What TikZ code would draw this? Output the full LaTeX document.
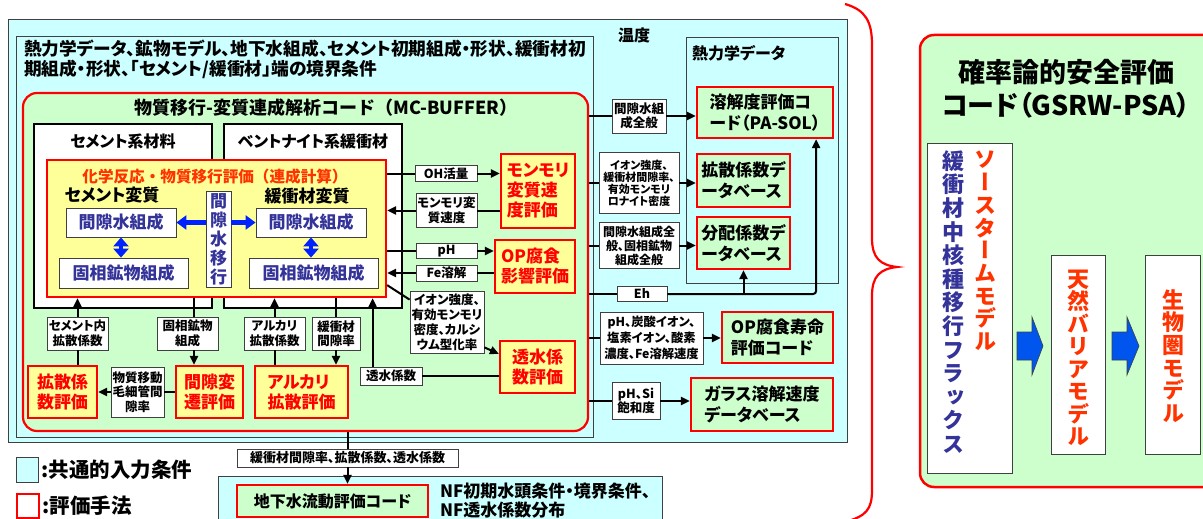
\documentclass[tikz,border=0pt]{standalone}
\usepackage{fontspec}
\setmainfont{Noto Sans CJK JP}[RawFeature={+palt}]
\newfontfamily\nopalt{Noto Sans CJK JP}
\newfontfamily\vertfont{Noto Sans CJK JP}[RawFeature={+vert}]
\usetikzlibrary{arrows.meta,calc}
\definecolor{cyanbg}{HTML}{CCFFFF}
\definecolor{greenbg}{HTML}{CCFFCC}
\definecolor{yellowbg}{HTML}{FFFF99}
\definecolor{navy}{HTML}{333399}
\definecolor{orred}{HTML}{FF3300}
\definecolor{bluearr}{HTML}{0022FF}
\definecolor{blockblue}{HTML}{0055EE}
\definecolor{grayline}{HTML}{404040}
\newcommand\myfs[2]{\bfseries\fontsize{#1}{#2}\selectfont}
\begin{document}
\begin{tikzpicture}[x=1pt,y=-1pt,
  container/.style={draw=grayline, fill=cyanbg, line width=1pt, inner sep=0},
  whitebox/.style={draw=black, fill=white, line width=2pt, inner sep=0},
  lbl/.style={draw=grayline, fill=white, line width=0.8pt, inner sep=0.5pt, align=center, font=\myfs{12.5}{14.5}},
  dlbl/.style={lbl, font=\myfs{11}{12}},
  evy/.style={draw=red, fill=yellowbg, line width=2.2pt, text=red, align=left, inner sep=0, font=\myfs{17}{20}},
  evg/.style={draw=red, fill=greenbg, line width=2.2pt, align=left, inner sep=0, font=\myfs{17}{21}},
  inb/.style={draw=grayline, fill=white, line width=0.8pt, text=navy, inner sep=0, align=center, font=\myfs{17}{19}},
  hd/.style={inner sep=0, font=\myfs{16}{20}},
  conn/.style={line width=2pt},
  arr/.style={line width=2pt, -{Triangle[length=9pt,width=8pt]}},
  bsingle/.style={line width=4.5pt, draw=bluearr, -{Triangle[length=10pt,width=14pt]}},
  bdouble/.style={line width=4.5pt, draw=bluearr, {Triangle[length=9pt,width=15pt]}-{Triangle[length=9pt,width=15pt]}},
  vtxt/.style={inner sep=0, align=center},
  blockarrow/.style={fill=blockblue, draw=grayline, line width=0.6pt}
]
\useasboundingbox (0,0) rectangle (1203,519);

% containers
\node[container, minimum width=839, minimum height=422] (outer) at (427.5,231) {};
\node[container, minimum width=577, minimum height=400] (inl) at (304.5,237) {};
\node[container, minimum width=152, minimum height=245] (thermo) at (762,160.5) {};
\node[draw=red, fill=greenbg, line width=2.2pt, rounded corners=14pt, minimum width=565, minimum height=338, inner sep=0] (green) at (305.5,262) {};
\node[whitebox, minimum width=178, minimum height=184] (cem) at (123,216) {};
\node[whitebox, minimum width=178, minimum height=184] (ben) at (313,216) {};
\node[draw=red, fill=yellowbg, line width=2.2pt, minimum width=339, minimum height=137, inner sep=0] (yel) at (216.5,228.5) {};

% header texts
\node[hd, anchor=north west, align=left, font=\myfs{17.7}{20}] (toptxt) at (24,40) {熱力学データ、鉱物モデル、地下水組成、セメント初期組成・形状、緩衝材初\\期組成・形状、「セメント/緩衝材」端の境界条件};
\node[hd] (temp) at (634,35) {温度};
\node[hd, anchor=west] (thermot) at (692,53) {熱力学データ};
\node[hd, font={\nopalt\myfs{18}{20}}] (mctitle) at (326,108) {物質移行-変質連成解析コード（MC-BUFFER）};
\node[hd] (cemt) at (123,141) {セメント系材料};
\node[hd] (bent) at (313,141) {ベントナイト系緩衝材};
\node[hd, text=orred, font={\nopalt\myfs{15.6}{20}}] (yelt) at (215,177) {化学反応・物質移行評価（連成計算）};
\node[inner sep=0, font=\myfs{17}{20}] (cemh) at (112,195) {セメント変質};
\node[inner sep=0, font=\myfs{17}{20}] (benh) at (307,196) {緩衝材変質};

% inner boxes
\node[inb, minimum width=110, minimum height=29] (lpw) at (121,222.5) {間隙水組成};
\node[inb, minimum width=129, minimum height=30] (lsm) at (123.5,273) {固相鉱物組成};
\node[inb, minimum width=25, minimum height=96] (move) at (218.5,239) {間\\隙\\水\\移\\行};
\node[inb, minimum width=110, minimum height=29] (rpw) at (311,222.5) {間隙水組成};
\node[inb, minimum width=129, minimum height=30] (rsm) at (313.5,273) {固相鉱物組成};
\draw[bdouble] (lpw.south) -- (lpw.south |- lsm.north);
\draw[bdouble] (rpw.south) -- (rpw.south |- rsm.north);
\draw[bsingle] (move.west |- lpw) -- (lpw.east);
\draw[bsingle] (move.east |- rpw) -- (rpw.west);

% right of yellow box
\node[lbl, minimum width=62, minimum height=16] (oh) at (446,173.5) {OH活量};
\node[evy, minimum width=74, minimum height=74] (mon) at (538,191) {モンモリ\\変質速\\度評価};
\node[lbl, minimum width=61, minimum height=34] (monsp) at (446.5,210.5) {モンモリ変\\質速度};
\node[lbl, minimum width=61, minimum height=15] (ph) at (446.5,251) {pH};
\node[evy, minimum width=80, minimum height=53] (op) at (535,266.5) {OP腐食\\影響評価};
\node[lbl, minimum width=61, minimum height=16] (fe) at (446.5,273) {Fe溶解};
\node[lbl, minimum width=74, minimum height=62, font=\myfs{12.5}{15}] (ion) at (447,322) {イオン強度、\\有効モンモリ\\密度、カルシ\\ウム型化率};
\node[evy, minimum width=75, minimum height=52] (teval) at (537.5,367) {透水係\\数評価};
\node[lbl, minimum width=62, minimum height=18] (tousui) at (391,376) {透水係数};

\draw[conn] (oh -| yel.east) -- (oh.west);
\draw[arr] (oh.east) -- (oh -| mon.west);
\draw[conn] (monsp -| mon.west) -- (monsp.east);
\draw[arr] (monsp.west) -- (monsp -| yel.east);
\draw[conn] (ph -| yel.east) -- (ph.west);
\draw[arr] (ph.east) -- (ph -| op.west);
\draw[conn] (fe -| op.west) -- (fe.east);
\draw[arr] (fe.west) -- (fe -| yel.east);
\draw[conn] ($(yel.south east)+(0,-13)$) -- ($(ion.north west)+(0,9)$);
\draw[arr] ($(ion.south east)+(0,-6)$) -- ($(teval.north west)+(0,14)$);
\draw[conn] (tousui -| teval.west) -- (tousui.east);
\coordinate (tx) at ($(tousui.north west)+(13,0)$);
\draw[arr] (tx) -- (tx |- yel.south);

% bottom row in green box
\node[lbl, minimum width=61, minimum height=33] (cdiff) at (77.5,333.5) {セメント内\\拡散係数};
\node[evy, minimum width=69, minimum height=52] (deval) at (62.5,392) {拡散係\\数評価};
\node[lbl, minimum width=61, minimum height=33] (smin) at (187.5,333.5) {固相鉱物\\組成};
\node[evy, minimum width=67, minimum height=52] (peval) at (209.5,392) {間隙変\\遷評価};
\node[lbl, minimum width=53, minimum height=50] (capbox) at (137.5,392) {物質移動\\毛細管間\\隙率};
\node[lbl, minimum width=61, minimum height=33] (adiff) at (274.5,333.5) {アルカリ\\拡散係数};
\node[lbl, minimum width=48, minimum height=33] (bpor) at (336,333.5) {緩衝材\\間隙率};
\node[evy, minimum width=93, minimum height=52] (aeval) at (301.5,392) {アルカリ\\拡散評価};

\draw[conn] (deval.north -| cdiff) -- (cdiff.south);
\draw[arr] (cdiff.north) -- (cdiff.north |- yel.south);
\coordinate (c194) at (194,300);
\draw[conn] (yel.south -| c194) -- (smin.north -| c194);
\draw[arr] (smin.south -| c194) -- (peval.north -| c194);
\draw[conn] (peval.west) -- (capbox.east);
\draw[arr] (capbox.west) -- (capbox.west -| deval.east);
\draw[conn] (aeval.north -| adiff) -- (adiff.south);
\draw[arr] (adiff.north) -- (adiff.north |- yel.south);
\draw[conn] (yel.south -| bpor) -- (bpor.north);
\draw[arr] (bpor.south) -- (bpor.south |- aeval.north);

% right column
\node[lbl, minimum width=54, minimum height=34] (gensei) at (639,116) {間隙水組\\成全般};
\node[evg, minimum width=136, minimum height=51] (pasol) at (765,112.5) {溶解度評価コ\\ード（PA-SOL）};
\node[dlbl, minimum width=80, minimum height=61] (ion2) at (639,183) {イオン強度、\\緩衝材間隙率、\\有効モンモリ\\ロナイト密度};
\node[evg, minimum width=93, minimum height=53] (diffdb) at (743.5,180.5) {拡散係数デ\\ータベース};
\node[lbl, minimum width=80, minimum height=46, font=\myfs{12}{14}] (kdbox) at (639,245.5) {間隙水組成全\\般、固相鉱物\\組成全般};
\node[evg, minimum width=93, minimum height=52] (kddb) at (743.5,243) {分配係数デ\\ータベース};
\node[lbl, minimum width=50, minimum height=15] (eh) at (642,294) {Eh};
\node[lbl, minimum width=103, minimum height=52, font=\myfs{12.3}{16}] (opbox) at (651.5,338) {pH、炭酸イオン、\\塩素イオン、酸素\\濃度、Fe溶解速度};
\node[evg, minimum width=111, minimum height=51] (oplife) at (777.5,337.5) {OP腐食寿命\\評価コード};
\node[lbl, minimum width=48, minimum height=37] (sibox) at (636,401) {pH、Si\\飽和度};
\node[evg, minimum width=142, minimum height=53] (glass) at (762,404.5) {ガラス溶解速度\\データベース};

\draw[conn] (gensei -| green.east) -- (gensei.west);
\draw[arr] (gensei.east) -- (gensei -| pasol.west);
\draw[conn] (ion2 -| green.east) -- (ion2.west);
\draw[arr] (ion2.east) -- (ion2 -| diffdb.west);
\draw[conn] (kdbox -| green.east) -- (kdbox.west);
\draw[arr] (kdbox.east) -- (kdbox -| kddb.west);
\draw[conn] (opbox -| green.east) -- (opbox.west);
\draw[arr] (opbox.east) -- (opbox -| oplife.west);
\draw[conn] (sibox -| green.east) -- (sibox.west);
\draw[arr] (sibox.east) -- (sibox -| glass.west);
\draw[conn] (eh -| green.east) -- (eh.west);
\coordinate (pasx) at ($(pasol.south east)+(-18,0)$);
\draw[arr, rounded corners=3pt] (eh.east) -- (eh -| pasx) -- (pasx);
\draw[arr] (eh -| kddb.south) -- (kddb.south);

% bottom
\node[lbl, minimum width=221, minimum height=18, font=\myfs{13}{14}] (bline) at (347.5,458) {緩衝材間隙率、拡散係数、透水係数};
\node[container, minimum width=444, minimum height=60] (bcyan) at (440,506) {};
\node[evg, minimum width=191, minimum height=32, font=\myfs{16}{19}] (gw) at (332.5,501) {地下水流動評価コード};
\node[anchor=west, align=left, inner sep=0, font=\myfs{17}{19}] (nf) at (440,501) {NF初期水頭条件・境界条件、\\NF透水係数分布};
\draw[conn] (bline.north |- green.south) -- (bline.north);
\draw[arr] (bline.south) -- (bline.south |- gw.north);

% legend
\node[container, minimum width=22, minimum height=25] (lgc) at (27,469.5) {};
\node[anchor=west, inner sep=0, font=\myfs{20.5}{22}] (lgct) at ($(lgc.east)+(3,0)$) {:共通的入力条件};
\node[draw=red, fill=white, line width=2pt, minimum width=22, minimum height=24, inner sep=0] (lgr) at (27.5,505.5) {};
\node[anchor=west, inner sep=0, font=\myfs{20.5}{22}] (lgrt) at ($(lgr.east)+(3,0)$) {:評価手法};

% brace
\draw[red, line width=2.2pt] (845,4) .. controls (866,10) and (872,22) .. (872,45) -- (872,238) .. controls (872,258) and (880,265) .. (897,267) .. controls (880,269) and (872,276) .. (872,296) -- (872,490) .. controls (872,510) and (866,516) .. (845,522);

% GSRW-PSA
\node[draw=red, fill=greenbg, line width=2.5pt, rounded corners=14pt, minimum width=300, minimum height=452, inner sep=0] (gsrw) at (1070,261) {};
\node[align=center, inner sep=0, font=\myfs{27}{33}] (gtitle) at (1066,89) {確率論的安全評価\\コード（GSRW-PSA）};
\node[draw=grayline, fill=white, line width=0.8pt, minimum width=85, minimum height=330, inner sep=0] (src) at (969.5,308) {};
\node[vtxt, text=orred, font={\vertfont\bfseries\fontsize{22}{22.7}\selectfont}] (srct) at (985,251) {ソ\\ー\\ス\\タ\\ー\\ム\\モ\\デ\\ル};
\node[vtxt, text=navy, font={\vertfont\bfseries\fontsize{22}{23.6}\selectfont}] (fluxt) at (953,302) {緩\\衝\\材\\中\\核\\種\\移\\行\\フ\\ラ\\ッ\\ク\\ス};
\node[draw=grayline, fill=white, line width=0.8pt, minimum width=54, minimum height=199, inner sep=0] (nat) at (1078,354.5) {};
\node[vtxt, text=orred, font={\vertfont\bfseries\fontsize{22}{22.5}\selectfont}] (natt) at (1078,358) {天\\然\\バ\\リ\\ア\\モ\\デ\\ル};
\node[draw=grayline, fill=white, line width=0.8pt, minimum width=55, minimum height=199, inner sep=0] (bio) at (1172.5,354.5) {};
\node[vtxt, text=orred, font={\vertfont\bfseries\fontsize{22}{22.7}\selectfont}] (biot) at (1173,356) {生\\物\\圏\\モ\\デ\\ル};
\draw[blockarrow] (1017,332) -- (1032,332) -- (1032,317) -- (1043,346) -- (1032,375) -- (1032,360) -- (1017,360) -- cycle;
\draw[blockarrow] (1112,332) -- (1127,332) -- (1127,317) -- (1139,346) -- (1127,375) -- (1127,360) -- (1112,360) -- cycle;
\end{tikzpicture}
\end{document}
